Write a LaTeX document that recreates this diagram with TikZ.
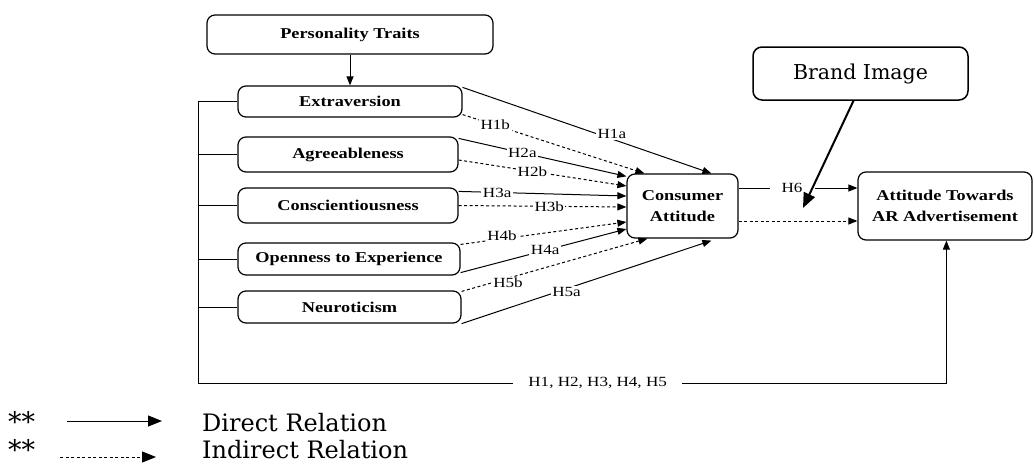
\documentclass[tikz,border=0pt]{standalone}
\usepackage{fontspec}
\setmainfont{Liberation Serif}
\newfontfamily\diagfont{Liberation Serif}[FakeStretch=1.22]
\newfontfamily\legfont{DejaVu Serif}
\usetikzlibrary{arrows.meta, calc}

\begin{document}
\begin{tikzpicture}[
        x=1pt, y=-1pt,
        trait/.style={draw, line width=1.2pt, rounded corners=8pt, inner sep=0pt, align=center, font=\diagfont\bfseries\fontsize{15}{21}\selectfont},
        hyp/.style={fill=white, inner sep=1.5pt, font=\diagfont\fontsize{14}{15}\selectfont},
        direct/.style={-{Triangle[length=9pt, width=7pt]}, line width=1pt},
        indirect/.style={direct, dash pattern=on 3pt off 2.5pt},
        plain/.style={line width=1pt},
        legend/.style={inner sep=0pt, font=\legfont\fontsize{24}{26}\selectfont},
        stars/.style={inner sep=0pt, font=\legfont\fontsize{27}{27}\selectfont},
    ]
    \useasboundingbox (0,0) rectangle (1034,466);

    % Boxes
    \node[trait, minimum width=286pt, minimum height=39pt] (pers) at (350,34.5) {Personality Traits};
    \node[trait, minimum width=224pt, minimum height=31pt] (extra) at (350,101.5) {Extraversion};
    \node[trait, minimum width=220pt, minimum height=35pt] (agree) at (348,154.5) {Agreeableness};
    \node[trait, minimum width=220pt, minimum height=35pt] (consc) at (348,205.5) {Conscientiousness};
    \node[trait, minimum width=222pt, minimum height=32pt] (open) at (349,259) {Openness to Experience};
    \node[trait, minimum width=223pt, minimum height=32pt] (neuro) at (349.5,307) {Neuroticism};
    \node[trait, minimum width=111pt, minimum height=64pt] (cons) at (682.5,206) {Consumer\\Attitude};
    \node[trait, minimum width=174pt, minimum height=68pt] (att) at (945,206) {Attitude Towards\\AR Advertisement};
    \node[draw, line width=1.5pt, rounded corners=9pt, minimum width=215pt, minimum height=53pt, font=\legfont\fontsize{20.5}{22}\selectfont] (brand) at (860.5,73.5) {Brand Image};

    \draw[direct] (pers) -- (extra);

    % Traits to consumer attitude
    \draw[direct] ($(extra.north east)+(0,2)$) -- node[hyp, pos=0.6, yshift=5pt] {H1a} ($(cons.north west)+(85,0)$);
    \draw[indirect] ($(extra.south east)+(0,-3)$) -- node[hyp, pos=0.18] {H1b} ($(cons.north west)+(18,0)$);
    \draw[direct] ($(agree.north east)+(0,2)$) -- node[hyp, pos=0.38] {H2a} ($(cons.north west)+(0,3)$);
    \draw[indirect] ($(agree.east)+(0,5.5)$) -- node[hyp, pos=0.44] {H2b} ($(cons.west)+(0,-20)$);
    \draw[direct] ($(consc.north east)+(0,4)$) -- node[hyp, pos=0.23] {H3a} ($(cons.west)+(0,-10)$);
    \draw[indirect] (consc.east) -- node[hyp, pos=0.54] {H3b} ($(cons.west)+(0,1)$);
    \draw[indirect] ($(open.north east)+(0,2)$) -- node[hyp, pos=0.25, yshift=3pt] {H4b} ($(cons.west)+(0,16)$);
    \draw[direct] ($(open.south east)+(0,-3)$) -- node[hyp, pos=0.51] {H4a} ($(cons.west)+(0,23)$);
    \draw[indirect] ($(neuro.north east)+(0,1)$) -- node[hyp, pos=0.25, yshift=-5pt] {H5b} ($(cons.south west)+(21,0)$);
    \draw[direct] (neuro.south east) -- node[hyp, pos=0.42, yshift=-3pt] {H5a} ($(cons.south west)+(85,2)$);

    % Consumer attitude to AR advertisement
    \draw[direct] ($(cons.east)+(0,-18)$) -- node[hyp, pos=0.45, inner xsep=12pt] {H6} ($(att.west)+(0,-18)$);
    \draw[indirect] ($(cons.east)+(0,15)$) -- ($(att.west)+(0,15)$);

    % Brand image
    \coordinate (bitip) at (803,208);
    \draw[-{Triangle[length=15pt, width=12pt]}, line width=2pt] ($(brand.south)+(-7,0)$) -- (bitip);

    % Bus line
    \coordinate (bus) at (198,383);
    \coordinate (attin) at ($(att.south west)+(89,0)$);
    \draw[direct] (extra.west) -| (bus) -| node[hyp, pos=0.267, inner xsep=15pt] {H1, H2, H3, H4, H5} (attin);
    \foreach \b in {agree, consc, open, neuro}
        \draw[plain] (\b.west) -- (\b.west -| bus);

    % Legend
    \node[stars, anchor=base west] (star1) at (8,431) {**};
    \node[stars, anchor=base west] (star2) at (8,459) {**};
    \node[legend, anchor=base west] (drl) at (202,431) {Direct Relation};
    \node[legend, anchor=base west] (irl) at (202,458) {Indirect Relation};
    \coordinate (d1) at (67,421);
    \coordinate (d2) at (162,421);
    \coordinate (i1) at (60,457);
    \coordinate (i2) at (156,457);
    \draw[-{Triangle[length=14pt, width=11pt]}, line width=1pt] (d1) -- (d2);
    \draw[-{Triangle[length=14pt, width=11pt]}, line width=1pt, dash pattern=on 3pt off 2.5pt] (i1) -- (i2);

\end{tikzpicture}
\end{document}
